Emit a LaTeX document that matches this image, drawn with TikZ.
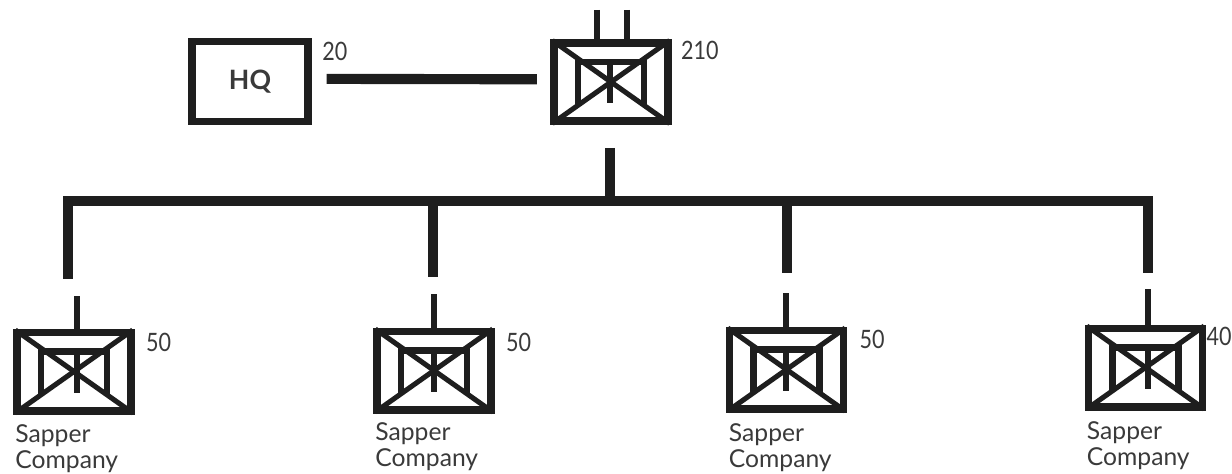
\documentclass[tikz,border=0pt]{standalone}
\usepackage{fontspec}
\setmainfont{Lato}
\newfontfamily\countfont[FakeStretch=0.85]{Lato}
\usetikzlibrary{positioning}

\definecolor{inkdark}{HTML}{1E1E1E}
\definecolor{inktext}{HTML}{3A3A3A}

\begin{document}
\begin{tikzpicture}[
x=0.75pt, y=-0.75pt,
unit/.style={rectangle, draw=inkdark, line width=5.8pt, minimum width=85.5pt, minimum height=58.7pt, inner sep=0pt},
inner/.style={draw=inkdark, line width=4.6pt},
cross/.style={draw=inkdark, line width=3.8pt, shorten <=2pt, shorten >=2pt},
value/.style={font=\countfont\fontsize{19}{19}\selectfont, text=inktext, inner sep=0pt, anchor=north west},
caption/.style={font=\fontsize{18.5}{19.5}\selectfont, text=inktext, align=left, inner sep=0pt, anchor=north west},
stem/.style={draw=inkdark, line width=4.8pt},
link/.style={draw=inkdark, line width=7.6pt},
]

\useasboundingbox (0,0) rectangle (1232,474);

\node[unit, minimum width=87.2pt, minimum height=60pt, font=\fontsize{20}{20}\selectfont\bfseries, text=inktext] (hq) at (250,81.5) {HQ};
\node[unit] (bn) at (611,82) {};
\node[unit] (ca) at (74,371.5) {};
\node[unit] (cb) at (434,370.5) {};
\node[unit] (cc) at (786.5,369.5) {};
\node[unit] (cd) at (1145.5,367.5) {};

% the symbol inside each unit box
\foreach \u/\s in {bn/-1, ca/3, cb/0, cc/-0.5, cd/2.5} {
  \draw[cross] (\u.north west) -- (\u.south east);
  \draw[cross] (\u.south west) -- (\u.north east);
  \draw[inner] ([shift={(-33,22)}]\u.center) -- ([shift={(-33,-20)}]\u.center)
    -- ([shift={(33,-20)}]\u.center) -- ([shift={(33,22)}]\u.center);
  \draw[stem] ([shift={(\s,-20)}]\u.center) -- ([shift={(\s,21)}]\u.center);
}

% counts and names
\node[value] (vh) at ([shift={(10,4)}]hq.north east) {20};
\node[value] (vb) at ([shift={(9,2)}]bn.north east) {210};
\node[value] (va) at ([shift={(11,4)}]ca.north east) {50};
\node[value] (vc) at ([shift={(11,5)}]cb.north east) {50};
\node[value] (vd) at ([shift={(12,3)}]cc.north east) {50};
\node[value] (ve) at ([shift={(0,2)}]cd.north east) {40};

\node[caption] (na) at ([shift={(2,10)}]ca.south west) {Sapper\\Company};
\node[caption] (nb) at ([shift={(2,9)}]cb.south west) {Sapper\\Company};
\node[caption] (nc) at ([shift={(3,11)}]cc.south west) {Sapper\\Company};
\node[caption] (nd) at ([shift={(2,11)}]cd.south west) {Sapper\\Company};

% links between HQ and the battalion
\draw[link, shorten <=11pt, shorten >=10pt] ([yshift=2pt]hq.east) -- ([yshift=2pt]bn.west);

% the tree
\coordinate (bus) at (610,201);
\coordinate (busa) at (68,201);
\coordinate (buse) at (1148,201);
\draw[link] (bn.south) ++(-1,23) -- (bus);
\draw[link, line cap=rect] (busa) -- (buse);
\foreach \x/\y [count=\i] in {68/279, 433/277, 787/273, 1148/273} {
  \coordinate (top\i) at (\x,201);
  \coordinate (end\i) at (\x,\y);
  \draw[link] (top\i) -- (end\i);
}

% stems above the boxes
\coordinate (sa) at (77,296);
\coordinate (sb) at (434,294);
\coordinate (sc) at (786,293);
\coordinate (sd) at (1148,289);
\coordinate (su) at (597,10);
\coordinate (sv) at (627,10);
\draw[stem] (sa) -- (sa |- ca.north);
\draw[stem] (sb) -- (sb |- cb.north);
\draw[stem] (sc) -- (sc |- cc.north);
\draw[stem] (sd) -- (sd |- cd.north);
\draw[stem] (su) -- (su |- bn.north);
\draw[stem] (sv) -- (sv |- bn.north);

\end{tikzpicture}
\end{document}
